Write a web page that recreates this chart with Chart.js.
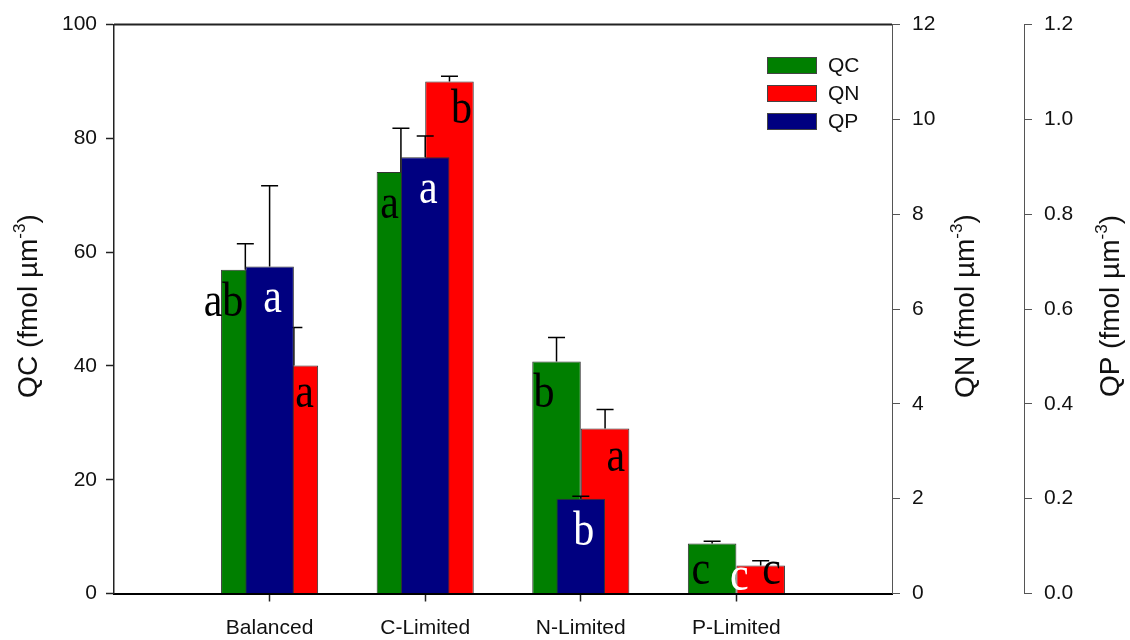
<!DOCTYPE html>
<html>
<head>
<meta charset="utf-8">
<script src="https://cdn.jsdelivr.net/npm/chart.js@4.4.1/dist/chart.umd.min.js"></script>
<style>
  html, body { margin: 0; padding: 0; background: #fff; }
  canvas { display: block; }
</style>
</head>
<body>
<canvas id="chart" width="1130" height="640"></canvas>
<script>
// Cell quotas per treatment (mean, upward SD) and significance letters
const categories = ['Balanced', 'C-Limited', 'N-Limited', 'P-Limited'];
const qcMean = [56.9, 74.1, 40.8, 8.8];
const qcSd   = [4.6, 7.7, 4.2, 0.4];
const qnMean = [4.81, 10.80, 3.48, 0.59];
const qnSd   = [0.80, 0.11, 0.40, 0.10];
const qpMean = [0.69, 0.92, 0.20, 0];
const qpSd   = [0.17, 0.045, 0.005, 0];
const qcLetters = ['ab', 'a', 'b', 'c'];
const qnLetters = ['a', 'b', 'a', 'c'];
const qpLetters = ['a', 'a', 'b', 'c'];

// Axis tick values and labels
const qcTicks = [0, 20, 40, 60, 80, 100];
const qnTicks = [0, 2, 4, 6, 8, 10, 12];
const qpTicks = [0, 0.2, 0.4, 0.6, 0.8, 1.0, 1.2];
const qpTickLabels = ['0.0', '0.2', '0.4', '0.6', '0.8', '1.0', '1.2'];

// Axis titles: main text, superscript, closing text
const qcTitle = ['QC (fmol µm', '-3', ')'];
const qnTitle = ['QN (fmol µm', '-3', ')'];
const qpTitle = ['QP (fmol µm', '-3', ')'];

// An empty slot on each side keeps the groups away from the frame
const pad = arr => [null, ...arr, null];
const xLabels = ['', ...categories, ''];

const SANS = '"Liberation Sans", Arial, Helvetica, sans-serif';
const SERIF = '"Liberation Serif", "Times New Roman", serif';
const TEXT = '#111';

// Letter placement relative to each bar (per series)
const letterStyle = {
  QC: { color: '#000', align: 'right',  dx: -2,  dy: 46, lift: 10 },
  QN: { color: '#000', align: 'left',   dx: 1.5, dy: 42, lift: 10 },
  QP: { color: '#fff', align: 'center', dx: 3,   dy: 46, lift: 4 }
};

const errorBars = {
  id: 'errorBars',
  afterDatasetDraw(chart, args) {
    const ds = chart.data.datasets[args.index];
    if (!ds.errors) return;
    const meta = args.meta;
    const ys = chart.scales[meta.yAxisID];
    const ctx = chart.ctx;
    ctx.save();
    ctx.strokeStyle = '#000';
    ctx.lineWidth = 1.5;
    meta.data.forEach((bar, i) => {
      const v = ds.data[i], e = ds.errors[i];
      if (v == null || !e) return;
      const yTop = ys.getPixelForValue(v + e);
      ctx.beginPath();
      ctx.moveTo(bar.x, bar.y);
      ctx.lineTo(bar.x, yTop);
      ctx.moveTo(bar.x - 8.5, yTop);
      ctx.lineTo(bar.x + 8.5, yTop);
      ctx.stroke();
    });
    ctx.restore();
  }
};

const letters = {
  id: 'letters',
  afterDatasetsDraw(chart) {
    const ctx = chart.ctx;
    const bottom = chart.chartArea.bottom;
    ctx.save();
    ctx.font = '42px ' + SERIF;
    ctx.textBaseline = 'alphabetic';
    chart.data.datasets.forEach((ds, di) => {
      if (!ds.letters) return;
      const st = letterStyle[ds.label];
      const meta = chart.getDatasetMeta(di);
      meta.data.forEach((bar, i) => {
        const t = ds.letters[i];
        if (!t) return;
        const y = Math.min(bar.y + st.dy, bottom - st.lift);
        ctx.save();
        ctx.fillStyle = st.color;
        ctx.textAlign = st.align;
        ctx.translate(bar.x + st.dx, y);
        ctx.scale(1, 1.15);
        ctx.fillText(t, 0, 0);
        ctx.restore();
      });
    });
    ctx.restore();
  }
};

function drawAxisTitle(ctx, cx, cy, parts) {
  const [main, sup, tail] = parts;
  ctx.save();
  ctx.translate(cx, cy);
  ctx.rotate(-Math.PI / 2);
  ctx.fillStyle = TEXT;
  ctx.textAlign = 'left';
  ctx.textBaseline = 'alphabetic';
  const big = '28px ' + SANS, small = '17px ' + SANS;
  ctx.font = big;
  const w1 = ctx.measureText(main).width;
  const w3 = ctx.measureText(tail).width;
  ctx.font = small;
  const w2 = ctx.measureText(sup).width;
  let x = -(w1 + w2 + w3) / 2;
  const base = 9;
  ctx.font = big;
  ctx.fillText(main, x, base);
  x += w1;
  ctx.font = small;
  ctx.fillText(sup, x, base - 12);
  x += w2;
  ctx.font = big;
  ctx.fillText(tail, x, base);
  ctx.restore();
}

const frame = {
  id: 'frame',
  afterDraw(chart) {
    const { ctx, chartArea } = chart;
    ctx.save();
    ctx.strokeStyle = '#222';
    ctx.lineWidth = 2;
    ctx.beginPath();
    ctx.moveTo(chartArea.left, chartArea.top);
    ctx.lineTo(chartArea.right, chartArea.top);
    ctx.stroke();
    ctx.restore();

    const midY = (chartArea.top + chartArea.bottom) / 2 - 3;
    drawAxisTitle(ctx, 28, midY, qcTitle);
    drawAxisTitle(ctx, 965, midY, qnTitle);
    drawAxisTitle(ctx, 1110, midY, qpTitle);

    // Legend
    ctx.save();
    ctx.font = '21px ' + SANS;
    ctx.textBaseline = 'middle';
    ctx.textAlign = 'left';
    ['QC', 'QN', 'QP'].forEach((name, k) => {
      const ds = chart.data.datasets.find(d => d.label === name);
      const top = 57 + k * 28;
      ctx.fillStyle = ds.backgroundColor;
      ctx.fillRect(767, top, 50, 17);
      ctx.strokeStyle = '#444';
      ctx.lineWidth = 1;
      ctx.strokeRect(767.5, top + 0.5, 49, 16);
      ctx.fillStyle = TEXT;
      ctx.fillText(name, 828, top + 9);
    });
    ctx.restore();
  }
};

const tickFont = { family: SANS, size: 21 };

new Chart(document.getElementById('chart'), {
  type: 'bar',
  data: {
    labels: xLabels,
    datasets: [
      {
        label: 'QC', data: pad(qcMean), errors: pad(qcSd), letters: pad(qcLetters),
        backgroundColor: '#007F00', borderColor: '#333', borderWidth: 1,
        yAxisID: 'y', order: 1,
        categoryPercentage: 0.624, barPercentage: 1
      },
      {
        label: 'QN', data: pad(qnMean), errors: pad(qnSd), letters: pad(qnLetters),
        backgroundColor: '#FF0000', borderColor: '#333', borderWidth: 1,
        yAxisID: 'yN', order: 1,
        categoryPercentage: 0.624, barPercentage: 1
      },
      {
        // centred over the QC/QN pair, drawn on top
        label: 'QP', data: pad(qpMean), errors: pad(qpSd), letters: pad(qpLetters),
        backgroundColor: '#000080', borderColor: '#333', borderWidth: 1,
        yAxisID: 'yP', order: 0, grouped: false,
        categoryPercentage: 0.624, barPercentage: 0.5
      }
    ]
  },
  options: {
    responsive: false,
    animation: false,
    layout: { padding: { top: 17.5, bottom: 0, left: 0, right: 0 } },
    plugins: { legend: { display: false }, tooltip: { enabled: false } },
    scales: {
      x: {
        type: 'category', position: 'bottom', offset: false,
        grid: {
          offset: false, drawOnChartArea: false, drawTicks: true, tickLength: 8, tickWidth: 1.5,
          tickColor: c => (c.index >= 1 && c.index <= categories.length) ? '#222' : 'rgba(0,0,0,0)'
        },
        border: { color: '#000', width: 2 },
        ticks: { font: tickFont, color: TEXT, padding: 14, autoSkip: false, maxRotation: 0 },
        afterFit: s => { s.height = 46.5; }
      },
      y: {
        position: 'left', min: 0, max: 100,
        afterBuildTicks: s => { s.ticks = qcTicks.map(v => ({ value: v })); },
        grid: { drawOnChartArea: false, tickLength: 8, tickWidth: 1.5, tickColor: '#222' },
        border: { color: '#222', width: 1.5 },
        ticks: { font: tickFont, color: TEXT, padding: 9 },
        afterFit: s => { s.width = 114; }
      },
      yN: {
        position: 'right', weight: 0, min: 0, max: 12,
        afterBuildTicks: s => { s.ticks = qnTicks.map(v => ({ value: v })); },
        grid: { drawOnChartArea: false, tickLength: 8, tickWidth: 1, tickColor: '#555' },
        border: { color: '#555', width: 1 },
        ticks: { font: tickFont, color: TEXT, padding: 12 },
        afterFit: s => { s.width = 132; }
      },
      yP: {
        position: 'right', weight: 1, min: 0, max: 1.2,
        afterBuildTicks: s => { s.ticks = qpTicks.map(v => ({ value: v })); },
        grid: { drawOnChartArea: false, tickLength: 8, tickWidth: 1, tickColor: '#555' },
        border: { color: '#555', width: 1 },
        ticks: { font: tickFont, color: TEXT, padding: 12, callback: (v, i) => qpTickLabels[i] },
        afterFit: s => { s.width = 106; }
      }
    }
  },
  plugins: [errorBars, letters, frame]
});
</script>
</body>
</html>
